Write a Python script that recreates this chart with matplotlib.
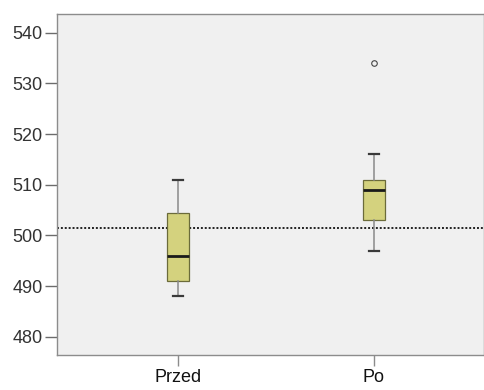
import matplotlib
matplotlib.use("Agg")
import matplotlib.pyplot as plt

# values
groups = ["Przed", "Po"]
whislo = [488, 497]
q1 = [491, 503]
medians = [496, 509]
q3 = [504.5, 511]
whishi = [511, 516]
fliers = [[], [534]]
ref_line = 501.4
yticks = [480, 490, 500, 510, 520, 530, 540]

plt.rcParams["font.family"] = ["Liberation Sans", "DejaVu Sans"]

fig = plt.figure(figsize=(4.85, 3.9), dpi=100)
ax = fig.add_axes([0.1175, 0.0897, 0.8804, 0.8744])
ax.set_facecolor("#f0f0f0")

stats = []
for i, g in enumerate(groups):
    stats.append({"label": g, "whislo": whislo[i], "q1": q1[i], "med": medians[i],
                  "q3": q3[i], "whishi": whishi[i], "fliers": fliers[i]})

ax.axhline(ref_line, color="#222222", lw=1.4, ls=(0, (1, 1)), zorder=1)

ax.bxp(stats, positions=[1, 2], widths=0.11, patch_artist=True,
       boxprops=dict(facecolor="#d4d27e", edgecolor="#6b6b3a", lw=0.9),
       medianprops=dict(color="#1a1a1a", lw=2),
       whiskerprops=dict(color="#8a8a8a", lw=1.1),
       capprops=dict(color="#3a3a3a", lw=1.6),
       capwidths=0.055,
       flierprops=dict(marker="o", markersize=4, markerfacecolor="none",
                       markeredgecolor="#444444", markeredgewidth=0.8),
       zorder=2)

ax.set_xlim(0.383, 2.561)
ax.set_ylim(476.4, 543.7)
ax.set_yticks(yticks)
ax.set_xticks([1, 2])
ax.set_xticklabels(groups)

for s in ax.spines.values():
    s.set_color("#8c8c8c")
    s.set_linewidth(1)
ax.tick_params(axis="y", length=9, width=1, color="#6c6c6c", labelsize=13,
               labelcolor="#333333", pad=1.5)
ax.tick_params(axis="x", length=8, width=1, color="#8c8c8c", labelsize=13,
               labelcolor="#111111", pad=2)

fig.savefig("out.png", dpi=100)
